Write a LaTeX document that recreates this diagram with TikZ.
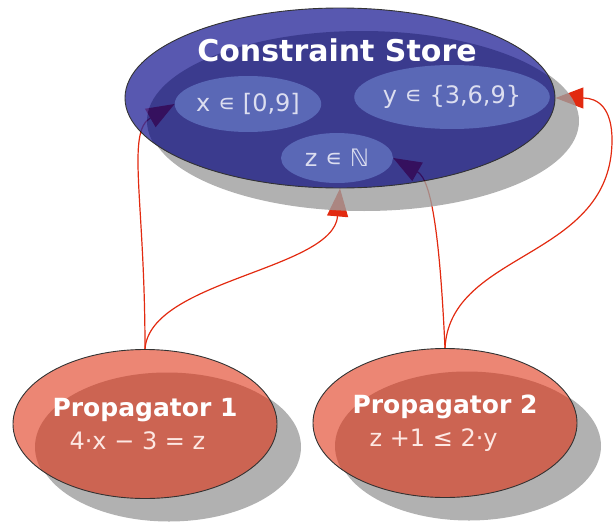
\documentclass[tikz,border=0pt]{standalone}
\usepackage{fontspec}
\setmainfont{DejaVu Sans}
\usetikzlibrary{arrows.meta,shapes.geometric,shadows,backgrounds,calc}

\definecolor{storelight}{RGB}{46,46,156}
\definecolor{storedark}{RGB}{10,10,114}
\definecolor{varfill}{RGB}{90,104,182}
\definecolor{vartext}{RGB}{220,222,240}
\definecolor{proplight}{RGB}{231,104,81}
\definecolor{propdark}{RGB}{191,61,39}
\definecolor{proptext}{RGB}{252,226,220}
\definecolor{shadowgray}{RGB}{158,158,158}
\definecolor{linkred}{RGB}{226,42,16}

\tikzset{
  blob/.style 2 args={ellipse, draw=black, line width=0.9pt, fill=#1, inner sep=0pt,
    drop shadow={shadow xshift=24pt, shadow yshift=-23pt, fill=shadowgray, draw=none, opacity=1},
    path picture={\fill[#2]
      let \p1=(path picture bounding box.north east), \p2=(path picture bounding box.center)
      in (\x2+22pt,\y2-23pt) ellipse [x radius=\x1-\x2, y radius=\y1-\y2];}},
  seethrough/.style={transparency group, opacity=0.8},
  var/.style={ellipse, fill=varfill, inner sep=0pt, text=vartext,
    font=\fontsize{24}{28}\selectfont},
  storetitle/.style={text=white, font=\bfseries\fontsize{30}{34}\selectfont},
  prop/.style={blob={proplight}{propdark}, minimum width=264pt, minimum height=149pt,
    align=left, text=white, font=\fontsize{25}{33}\selectfont},
  link/.style={draw=linkred, line width=1.2pt, -{Triangle[length=28pt,width=21pt]}},
}

\begin{document}
\begin{tikzpicture}[x=1pt, y=-1pt]
  \useasboundingbox (0,0) rectangle (613,522);

  % constraint store with its variables
  \begin{scope}[seethrough]
    \node[blob={storelight}{storedark}, minimum width=430pt, minimum height=180pt] (store) at (340,98) {};
  \end{scope}
  \node[storetitle] (title) at (337,50) {Constraint Store};
  \node[var, minimum width=144pt, minimum height=56pt] (x) at (248,104) {x ∊ [0,9]};
  \node[var, minimum width=176pt, minimum height=64pt] (y) at (452,97) {y ∊ \{3,6,9\}};
  \node[var, minimum width=112pt, minimum height=50pt] (z) at (337,158) {z ∊ ℕ};

  % propagators
  \begin{scope}[seethrough]
    \node[prop] (p1) at (145,424) {\textbf{Propagator 1}\\
      \hspace*{17pt}{\color{proptext}\fontsize{24}{33}\selectfont 4·x − 3 = z}};
  \end{scope}
  \begin{scope}[seethrough]
    \node[prop] (p2) at (445,423) {\textbf{Propagator 2}\\
      \hspace*{17pt}{\color{proptext}\fontsize{24}{33}\selectfont z +1 ≤ 2·y}};
  \end{scope}

  \begin{scope}[on background layer]
    \draw[link] (p1.north) .. controls (145,200) and (126,132) .. (x.west);
    \draw[link] (p1.north) .. controls (150,280) and (333,270) .. (store.south);
    \draw[link] (p2.north) .. controls (440,240) and (432,180) .. (z.east);
    \draw[link] (p2.north) .. controls (450,250) and (612,260) .. (612,140)
      .. controls (612,108) and (598,98) .. (store.east);
  \end{scope}
\end{tikzpicture}
\end{document}
